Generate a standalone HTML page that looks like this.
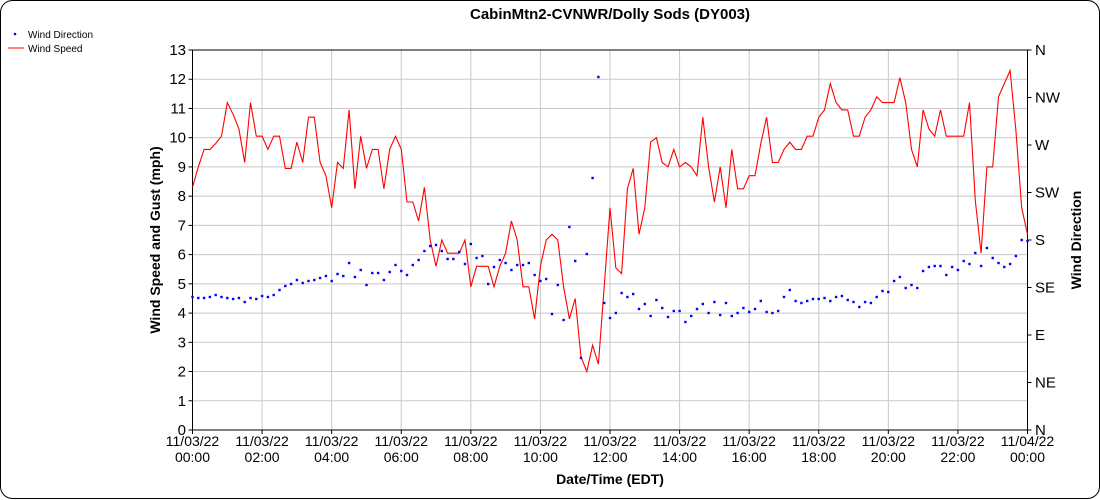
<!DOCTYPE html>
<html><head><meta charset="utf-8"><style>
html,body{margin:0;padding:0;background:#fff;}
svg{display:block;font-family:"Liberation Sans",Arial,sans-serif;}
</style></head><body>
<svg id="s" width="1100" height="500" xmlns="http://www.w3.org/2000/svg">
<rect x="0.5" y="0.5" width="1099" height="498" rx="12" ry="12" fill="#fff" stroke="#000" stroke-width="1"/>
<text x="610" y="19" text-anchor="middle" font-size="15" font-weight="bold">CabinMtn2-CVNWR/Dolly Sods (DY003)</text>
<circle cx="15" cy="34" r="1.3" fill="#00f"/>
<text x="28" y="38" font-size="10">Wind Direction</text>
<line x1="8" y1="48" x2="24" y2="48" stroke="#f00"/>
<text x="28" y="52" font-size="10">Wind Speed</text>
<g id="g"></g>
<text transform="translate(160,240) rotate(-90)" text-anchor="middle" font-size="14" font-weight="bold">Wind Speed and Gust (mph)</text>
<text transform="translate(1081,240) rotate(-90)" text-anchor="middle" font-size="14" font-weight="bold">Wind Direction</text>
<text x="610" y="484" text-anchor="middle" font-size="14" font-weight="bold">Date/Time (EDT)</text>
</svg>
<script>
var X0=192.5,X1=1027.5,Y0=430,Y1=50;
var sp=[8.3,9.0,9.6,9.6,9.8,10.05,11.2,10.8,10.3,9.15,11.2,10.05,10.05,9.6,10.05,10.05,8.95,8.95,9.85,9.15,10.7,10.7,9.15,8.7,7.6,9.15,8.95,10.95,8.25,10.05,8.95,9.6,9.6,8.25,9.6,10.05,9.6,7.8,7.8,7.15,8.3,6.5,5.6,6.5,6.05,6.05,6.05,6.5,4.9,5.6,5.6,5.6,4.9,5.6,6.05,7.15,6.5,4.9,4.9,3.8,5.6,6.5,6.7,6.5,4.9,3.8,4.5,2.5,2.0,2.9,2.25,4.9,7.6,5.55,5.35,8.25,8.95,6.7,7.6,9.85,10.0,9.15,9.0,9.6,9.0,9.15,9.0,8.7,10.7,9.0,7.8,9.0,7.6,9.6,8.25,8.25,8.7,8.7,9.8,10.7,9.15,9.15,9.6,9.85,9.6,9.6,10.05,10.05,10.7,10.95,11.85,11.2,10.95,10.95,10.05,10.05,10.7,10.95,11.4,11.2,11.2,11.2,12.05,11.2,9.6,9.0,10.95,10.3,10.05,10.95,10.05,10.05,10.05,10.05,11.2,7.85,6.05,9.0,9.0,11.4,11.85,12.3,10.25,7.6,6.7];
var dy=[297,298,298,297,295,297,298,299,298,302,298,299,296,297,295,290,286,284,280,283,281,280,278,276,281,274,276,263,277,270,285,273,273,280,272,265,271,275,265,260,251,246,245,251,259,259,252,264,244,258,256,284,267,260,263,270,265,265,263,275,281,279,314,285,320,227,261,358,254,178,77,303,318,313,293,297,294,309,304,316,300,308,317,311,311,322,316,309,304,313,302,315,303,316,313,308,312,309,301,312,313,311,297,290,301,303,301,299,299,298,301,297,296,300,302,307,302,303,297,291,292,281,277,288,285,288,271,267,266,266,275,267,270,261,264,253,266,248,258,263,267,264,256,240,241];
var h='',i;
var px=function(i){return X0+(X1-X0)*i/144;};
var py=function(v){return Y0-(Y0-Y1)*v/13;};
for(i=1;i<=12;i++){var y=py(i);h+='<line x1="'+X0+'" y1="'+y+'" x2="'+X1+'" y2="'+y+'" stroke="#c8c8c8"/>';}
for(i=1;i<12;i++){var x=X0+(X1-X0)*i/12;h+='<line x1="'+x+'" y1="'+Y1+'" x2="'+x+'" y2="'+Y0+'" stroke="#c8c8c8"/>';}
h+='<rect x="'+X0+'" y="'+Y1+'" width="'+(X1-X0)+'" height="'+(Y0-Y1)+'" fill="none" stroke="#000"/>';
for(i=0;i<=13;i++){var y=py(i);h+='<line x1="'+(X0-4)+'" y1="'+y+'" x2="'+X0+'" y2="'+y+'" stroke="#000"/><text x="186" y="'+(y+5)+'" text-anchor="end" font-size="15">'+i+'</text>';}
var dirs=['N','NE','E','SE','S','SW','W','NW','N'];
for(i=0;i<=8;i++){var y=Y0-(Y0-Y1)*i/8;h+='<line x1="'+X1+'" y1="'+y+'" x2="'+(X1+4)+'" y2="'+y+'" stroke="#000"/><text x="1035" y="'+(y+5)+'" font-size="15">'+dirs[i]+'</text>';}
var hrs=['00:00','02:00','04:00','06:00','08:00','10:00','12:00','14:00','16:00','18:00','20:00','22:00','00:00'];
for(i=0;i<=12;i++){var x=X0+(X1-X0)*i/12;h+='<line x1="'+x+'" y1="'+Y0+'" x2="'+x+'" y2="'+(Y0+4)+'" stroke="#000"/><text x="'+x+'" y="446" text-anchor="middle" font-size="14">'+(i==12?'11/04/22':'11/03/22')+'</text><text x="'+x+'" y="462" text-anchor="middle" font-size="14">'+hrs[i]+'</text>';}
var pts=[];for(i=0;i<sp.length;i++)pts.push(px(i).toFixed(1)+','+py(sp[i]).toFixed(1));
h+='<polyline points="'+pts.join(' ')+'" fill="none" stroke="#f00" stroke-width="1.1"/>';
for(i=0;i<dy.length;i++)h+='<rect x="'+(px(i)-1.2).toFixed(1)+'" y="'+(dy[i]-1.2)+'" width="2.4" height="2.4" fill="#00f"/>';
document.getElementById('g').innerHTML=h;
</script>
</body></html>
